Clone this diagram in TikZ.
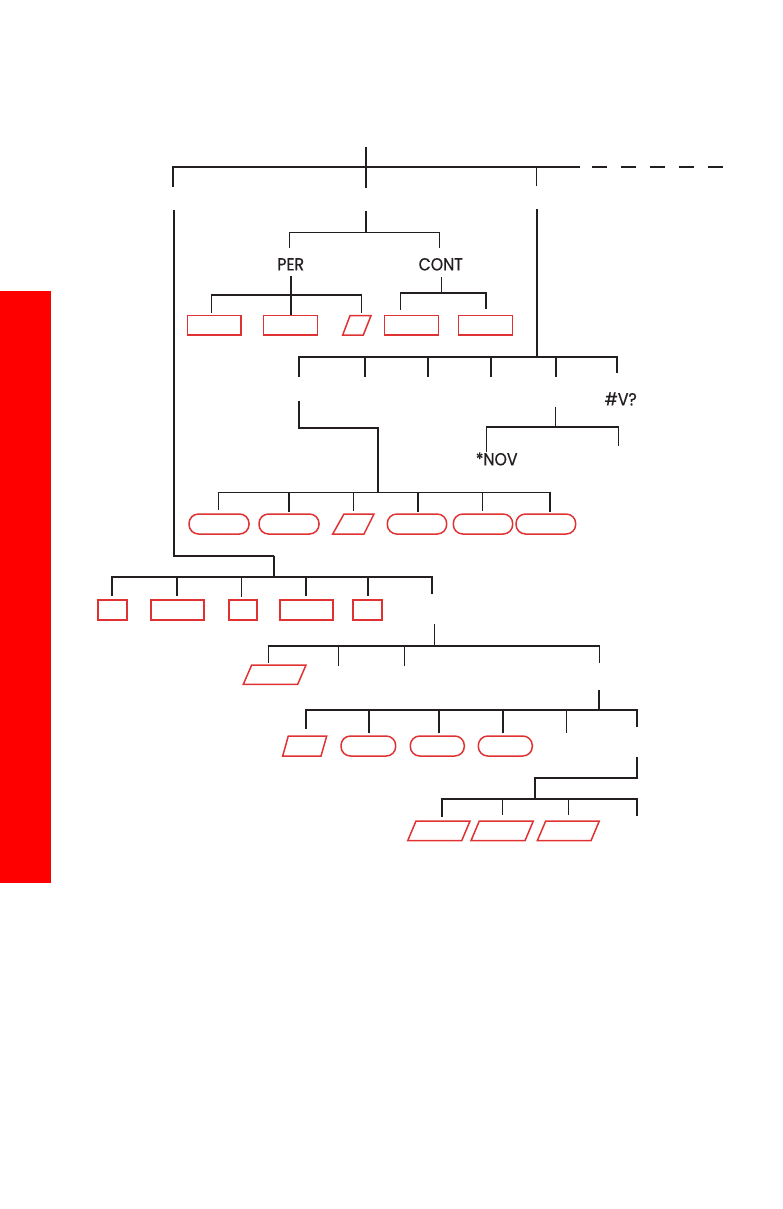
\documentclass[tikz,border=0pt]{standalone}
\usepackage{fontspec}
\setmainfont{Poppins}
\newfontfamily\lblfont[FakeStretch=0.9,FakeBold=0.6]{Poppins}
\definecolor{ink}{RGB}{35,31,32}
\definecolor{boxred}{RGB}{224,50,50}
\definecolor{barred}{RGB}{255,0,0}
\newcommand\parashape[6]{\draw[rb] (#1,#2) -- (#3,#6) -- (#4,#6) -- (#5,#2) -- cycle;}
\begin{document}
\begin{tikzpicture}[x=1pt,y=-1pt,
  T/.style={draw=ink,line width=2.3pt},
  t/.style={draw=ink,line width=1.3pt},
  m/.style={draw=ink,line width=1.6pt},
  rb/.style={draw=boxred,line width=1.5pt,line join=miter},
  rbox/.style={rectangle,draw=boxred,line width=1.5pt,inner sep=0pt},
  rboxb/.style={rectangle,draw=boxred,line width=2.3pt,inner sep=0pt},
  stad/.style={rectangle,draw=boxred,line width=1.5pt,inner sep=0pt,rounded corners=9.5pt},
  lbl/.style={inner sep=0pt,text=ink,font=\lblfont\fontsize{17.5}{20}\selectfont}]
\useasboundingbox (0,0) rectangle (783,1209);
\fill[barred] (0,291) rectangle (51,882.7);

% top level
\draw[T] (173,186.7) -- (173,166.7) -- (580,166.7);
\draw[T] (366,146.7) -- (366,188.3);
\draw[t] (536.7,166.7) -- (536.7,185.7);
\draw[T,dash pattern=on 15pt off 14pt] (592,166.7) -- (723,166.7);

% left long branch
\draw[T] (174,210) -- (174,557);
\draw[t] (174,556) -- (274,556);
\draw[T] (274,555.5) -- (274,577.3);

% PER / CONT branch
\draw[T] (366,211) -- (366,232.3);
\draw[m] (289.3,248.3) -- (289.3,232.3) -- (439.3,232.3) -- (439.3,248.3);
\node[lbl] (per) at (290.7,264.3) {PER};
\node[lbl] (cont) at (440.7,264.3) {CONT};
\draw[T] (290.7,276) -- (290.7,315);
\draw[T] (211.1,295) -- (362.3,295);
\draw[t] (211.7,295) -- (211.7,312.7);
\draw[t] (361.7,295) -- (361.7,312.7);
\draw[t] (441.7,277.3) -- (441.7,293.3);
\draw[T] (400.1,293.3) -- (487,293.3);
\draw[t] (400.7,293.3) -- (400.7,310);
\draw[T] (486,293.3) -- (486,309.3);
\node[rbox,minimum width=53.7,minimum height=19.3] (b1) at (214.15,325.35) {};
\node[rbox,minimum width=53.6,minimum height=19.3] (b2) at (290.5,325.35) {};
\parashape{342.7}{335}{350}{371}{363.3}{315.7}
\node[rbox,minimum width=54,minimum height=19.3] (b4) at (411.3,325.35) {};
\node[rbox,minimum width=53.6,minimum height=19.3] (b5) at (485.5,325.35) {};

% right branch
\draw[T] (537,209) -- (537,357.3);
\draw[T] (297.9,357.3) -- (618.4,357.3);
\foreach \x in {299,365.3,427.7,490.7,556} \draw[T] (\x,357.3) -- (\x,376.5);
\draw[T] (617.3,357.3) -- (617.3,373);
\node[lbl] (v) at (620.7,399) {\#V?};
\draw[T] (299,401) -- (299,428.3) -- (377.7,428.3) -- (377.7,492.3);
\draw[m] (218.7,492.3) -- (551.1,492.3);
\draw[t] (218.7,492.3) -- (218.7,510);
\draw[T] (289,492.3) -- (289,511.7);
\draw[t] (353.3,492.3) -- (353.3,510.7);
\draw[T] (417.7,492.3) -- (417.7,511.7);
\draw[t] (482.3,492.3) -- (482.3,510.7);
\draw[T] (550,492.3) -- (550,511.7);
\node[stad,minimum width=60,minimum height=20] (s1) at (219,524) {};
\node[stad,minimum width=60,minimum height=20] (s2) at (289,524) {};
\parashape{332.7}{534}{344}{374}{364}{514}
\node[stad,minimum width=59.4,minimum height=20] (s4) at (417,524) {};
\node[stad,minimum width=59.4,minimum height=20] (s5) at (483,524) {};
\node[stad,minimum width=59.7,minimum height=20] (s6) at (545.85,524) {};

% NOV
\draw[t] (555.3,406.7) -- (555.3,427.3);
\draw[T] (486.1,427.3) -- (619.3,427.3);
\draw[t] (486.7,427.3) -- (486.7,451.7);
\draw[t] (618.7,427.3) -- (618.7,446);
\node[lbl] (nov) at (496.7,459) {*NOV};

% bottom-left branch
\draw[T] (110.6,577.3) -- (433.4,577.3);
\foreach \x in {111.7,176.7,306,367.7} \draw[T] (\x,577.3) -- (\x,596);
\draw[t] (241.3,577.3) -- (241.3,596.7);
\draw[T] (432.3,577.3) -- (432.3,594.3);
\node[rboxb,minimum width=29,minimum height=20] (r1) at (112.8,610) {};
\node[rboxb,minimum width=53.6,minimum height=20] (r2) at (177.5,610) {};
\node[rboxb,minimum width=28.3,minimum height=20] (r3) at (242.85,610) {};
\node[rboxb,minimum width=53.6,minimum height=20] (r4) at (306.5,610) {};
\node[rboxb,minimum width=29,minimum height=20] (r5) at (367.8,610) {};

\draw[t] (434.3,624) -- (434.3,645.7);
\draw[T] (267.7,645.7) -- (599.9,645.7);
\draw[t] (268.3,645.7) -- (268.3,663.3);
\draw[t] (338.3,645.7) -- (338.3,665.7);
\draw[t] (404.3,645.7) -- (404.3,665.7);
\draw[t] (599.3,645.7) -- (599.3,662.7);
\parashape{243.3}{684.3}{251.7}{306}{297.7}{665}

\draw[T] (599,690) -- (599,710.3);
\draw[T] (304.9,710.3) -- (638.4,710.3);
\draw[T] (306,710.3) -- (306,729.3);
\foreach \x in {368.7,439,503.3} \draw[T] (\x,710.3) -- (\x,732.7);
\draw[t] (566.7,710.3) -- (566.7,732.7);
\draw[T] (637.3,710.3) -- (637.3,727.3);
\parashape{282.7}{756}{288.3}{326.7}{321}{736}
\node[stad,minimum width=54.7,minimum height=20] (u1) at (368.35,746) {};
\node[stad,minimum width=54,minimum height=20] (u2) at (437.3,746) {};
\node[stad,minimum width=54,minimum height=20] (u3) at (505.3,746) {};

\draw[T] (636.7,756.7) -- (636.7,778.3) -- (535,778.3) -- (535,799.3);
\draw[T] (440.6,799.3) -- (637.8,799.3);
\draw[T] (441.7,799.3) -- (441.7,817.3);
\draw[t] (502.7,799.3) -- (502.7,815);
\draw[t] (568.7,799.3) -- (568.7,815);
\draw[T] (636.7,799.3) -- (636.7,815.7);
\parashape{407.7}{840.7}{416}{470}{461.7}{821}
\parashape{471}{840.7}{479.3}{533.3}{525}{821}
\parashape{537.3}{840.7}{545.7}{599.3}{591}{821}
\end{tikzpicture}
\end{document}
